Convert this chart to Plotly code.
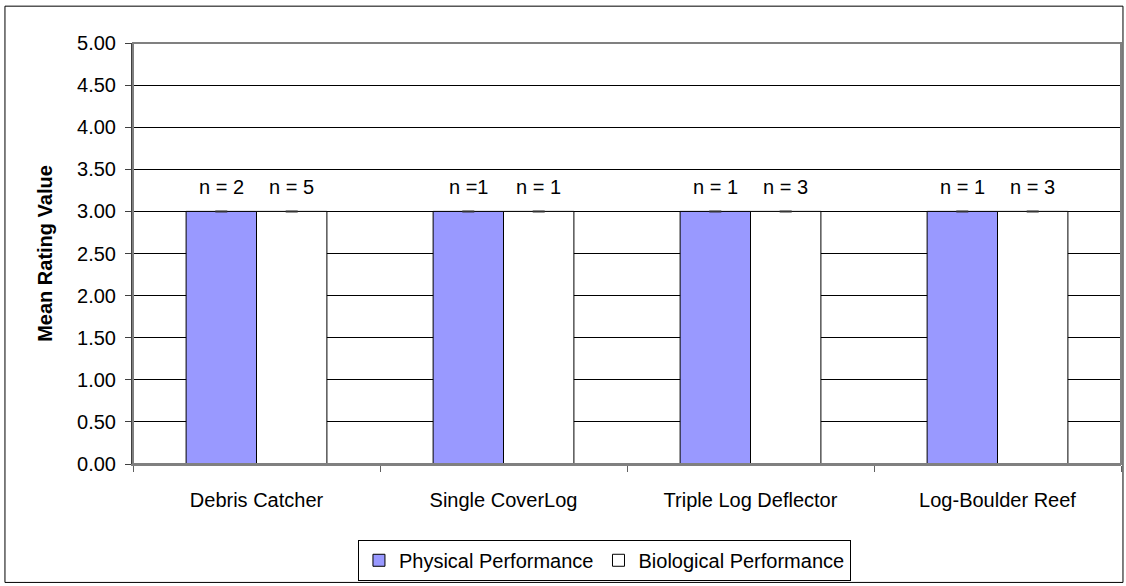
import plotly.graph_objects as go

categories = ["Debris Catcher", "Single CoverLog", "Triple Log Deflector", "Log-Boulder Reef"]
physical = [3.0, 3.0, 3.0, 3.0]
biological = [3.0, 3.0, 3.0, 3.0]
physical_n = ["n = 2", "n =1", "n = 1", "n = 1"]
biological_n = ["n = 5", "n = 1", "n = 3", "n = 3"]
y_ticks = [0, 0.5, 1, 1.5, 2, 2.5, 3, 3.5, 4, 4.5, 5]

FONT = "Liberation Sans, Arial, sans-serif"
FS = 20

fig = go.Figure()
fig.add_trace(go.Bar(
    name="Physical Performance", x=categories, y=physical,
    marker=dict(color="#9999FF", line=dict(color="black", width=1)),
    error_y=dict(type="data", array=[0] * len(physical), visible=True,
                 color="#333333", thickness=2, width=6),
))
fig.add_trace(go.Bar(
    name="Biological Performance", x=categories, y=biological,
    marker=dict(color="white", line=dict(color="black", width=1)),
    error_y=dict(type="data", array=[0] * len(biological), visible=True,
                 color="#333333", thickness=2, width=6),
))

annotations = []
for c, v, t in zip(categories, physical, physical_n):
    annotations.append(dict(x=c, y=v, text=t, showarrow=False, xshift=-35,
                            yanchor="bottom", yshift=11,
                            font=dict(family=FONT, size=FS, color="black")))
for c, v, t in zip(categories, biological, biological_n):
    annotations.append(dict(x=c, y=v, text=t, showarrow=False, xshift=35,
                            yanchor="bottom", yshift=11,
                            font=dict(family=FONT, size=FS, color="black")))

fig.update_layout(
    width=1126, height=586,
    margin=dict(l=133, r=5, t=43, b=120),
    paper_bgcolor="white", plot_bgcolor="white",
    font=dict(family=FONT, size=FS, color="black"),
    barmode="group", bargap=0.43, bargroupgap=0,
    showlegend=True,
    legend=dict(orientation="h", x=0.2277, xanchor="left", y=-0.18, yanchor="top",
                bordercolor="black", borderwidth=1, bgcolor="white",
                font=dict(family=FONT, size=FS), itemwidth=30,
                traceorder="normal"),
    annotations=annotations,
    shapes=[
        dict(type="rect", xref="paper", yref="paper", x0=0, x1=1, y0=0, y1=1,
             line=dict(color="#808080", width=2), layer="above"),
        dict(type="rect", xref="paper", yref="paper", x0=-0.1296, x1=1.002,
             y0=-0.2813, y1=1.0875, line=dict(color="black", width=1)),
    ],
)
fig.update_xaxes(
    type="category", showgrid=False, showline=True, linecolor="#808080", linewidth=2,
    ticks="outside", tickson="boundaries", ticklen=6, tickcolor="#606060",
    ticklabelstandoff=17, tickfont=dict(family=FONT, size=FS, color="black"),
)
fig.update_yaxes(
    range=[0, 5], tickvals=y_ticks, tickformat=".2f",
    showgrid=True, gridcolor="black", gridwidth=1,
    showline=True, linecolor="#404040", linewidth=2,
    ticks="outside", ticklen=6, tickcolor="#404040",
    ticklabelstandoff=5,
    tickfont=dict(family=FONT, size=FS, color="black"),
    title=dict(text="<b>Mean Rating Value</b>", font=dict(family=FONT, size=FS, color="black"),
               standoff=19),
    zeroline=False,
)

fig.write_html("out.html", config={"displayModeBar": False},
               post_script="document.body.style.margin='0';")
